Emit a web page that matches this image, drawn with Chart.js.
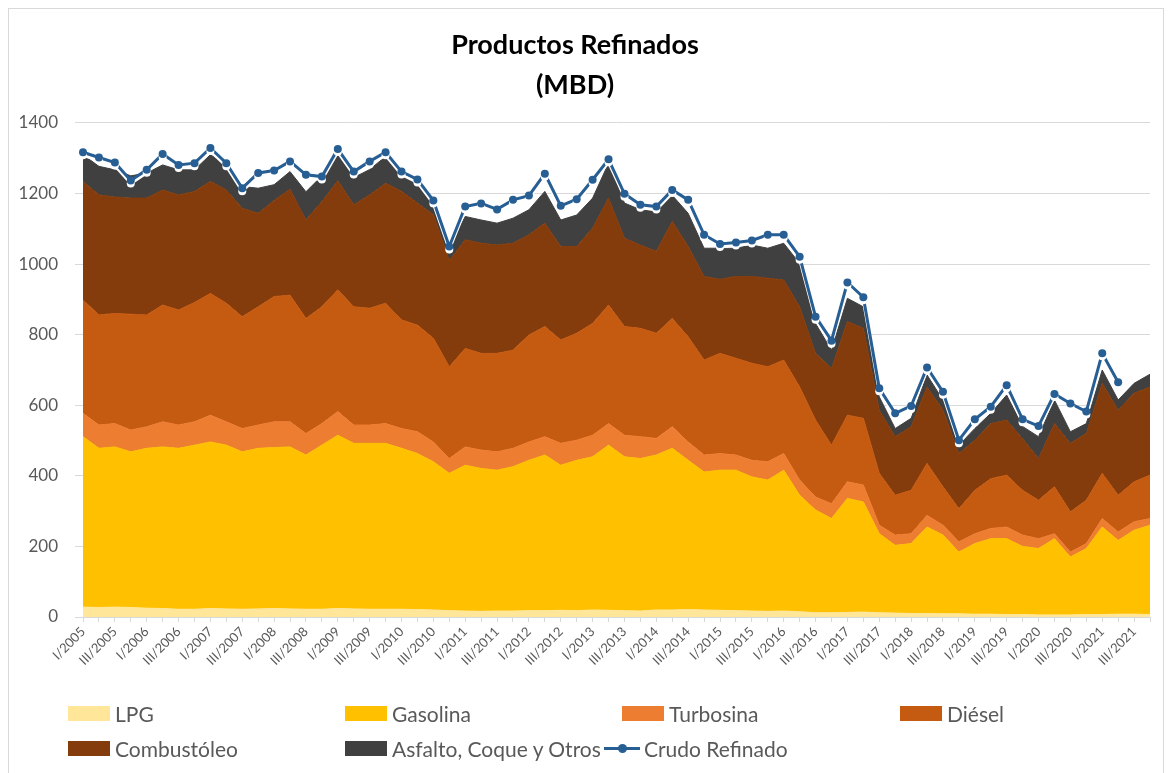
<!DOCTYPE html>
<html lang="es">
<head>
    <meta charset="UTF-8">
    <title>Productos Refinados (MBD)</title>
    <script src="https://cdn.jsdelivr.net/npm/chart.js"></script>
    <style>
        body { margin: 0; background: #fff; font-family: Lato, 'Open Sans', sans-serif; }
        #frame { position: absolute; left: 8px; top: 8px; width: 1156px; height: 790px; border: 1px solid #d9d9d9; box-sizing: border-box; pointer-events: none; }
        #wrap { position: absolute; left: 0; top: 0; width: 1169px; height: 695px; }
        #legend { position: absolute; left: 0; top: 0; width: 1169px; height: 773px; pointer-events: none; }
        .item { position: absolute; display: flex; align-items: center; height: 26px; margin-top: -13px; font-size: 21px; color: #595959; white-space: nowrap; }
        .box { width: 42px; height: 15px; margin-right: 5px; }
        .line { position: relative; width: 36px; height: 3px; margin-right: 4px; }
        .line span { position: absolute; left: 14px; top: -3px; width: 9px; height: 9px; border-radius: 50%; }
    </style>
</head>
<body>
    <div id="wrap"><canvas id="chart" width="1169" height="695"></canvas></div>
    <div id="legend"></div>
    <div id="frame"></div>

    <script>
        // quarters I/2005 .. IV/2021
        const years = [2005, 2006, 2007, 2008, 2009, 2010, 2011, 2012, 2013, 2014, 2015, 2016, 2017, 2018, 2019, 2020, 2021];
        const quarterNames = ['I', 'II', 'III', 'IV'];
        const labels = years.flatMap(y => quarterNames.map(q => q + '/' + y));

        // MBD
        const lpg = [28,27,28,27,25,24,22,22,24,23,22,23, 24,23,22,22,24,23,22,22,22,21,20,18,
                     17,16,17,17,18,18,19,18,20,19,18,17, 20,20,21,20,19,18,17,16,17,15,12,12,
                     13,14,12,11,10,10,9,9,8,8,7,7, 6,6,6,7,7,8,8,7];
        const gasolina = [483,451,454,441,453,458,456,465,472,464,446,455, 456,459,437,465,491,469,470,470,456,442,420,389,
                          413,405,399,409,426,441,411,426,434,468,436,432, 439,458,423,391,397,398,380,372,399,330,291,267,
                          323,312,224,192,198,245,223,175,200,214,215,193, 188,216,164,187,248,209,238,253];
        const turbosina = [66,66,66,62,61,71,66,66,76,66,66,66, 73,71,61,61,67,52,52,56,56,62,56,42,
                           52,52,52,52,52,52,62,57,61,61,61,62, 47,61,52,48,47,43,47,52,47,43,37,42,
                           47,48,24,29,28,33,28,29,28,29,33,32, 28,14,14,14,24,24,24,19];
        const diesel = [321,312,312,328,317,331,326,338,345,336,317,335, 355,359,326,331,345,335,331,341,308,302,294,260,
                        279,274,279,278,303,312,293,303,317,336,308,307, 298,307,298,269,284,274,275,269,265,264,218,166,
                        189,189,147,113,123,147,109,94,123,141,147,127, 109,133,114,123,128,104,113,123];
        const combustoleo = [336,340,330,329,331,326,326,315,317,321,307,265, 272,300,279,298,309,289,321,340,364,346,350,301,
                             308,312,307,303,284,293,265,246,270,303,250,236, 232,275,256,237,210,232,246,251,227,227,189,217,
                             265,255,179,166,180,217,217,156,142,156,156,146, 118,179,194,189,255,241,251,250];
        const asfalto = [76,81,77,63,71,71,71,61,76,71,62,71, 45,50,80,73,79,77,72,76,54,62,35,35,
                         66,66,62,71,71,90,75,89,85,99,100,100, 113,74,94,80,88,80,89,85,104,123,85,52,
                         66,61,38,23,24,34,29,24,33,29,71,35, 62,67,33,28,38,29,28,36];
        const crudo = [1317,1302,1288,1237,1267,1312,1281,1286,1329,1286,1215,1258,
                       1265,1291,1253,1248,1326,1262,1291,1317,1262,1240,1180,1050,
                       1163,1172,1155,1182,1194,1256,1165,1184,1239,1297,1199,1168,
                       1163,1210,1182,1083,1057,1061,1067,1083,1083,1021,851,783,
                       948,906,648,577,598,707,638,501,560,596,657,560,
                       541,632,605,582,747,665,null,null];

        const yTicks = [0, 200, 400, 600, 800, 1000, 1200, 1400];

        function area(label, data, color, first) {
            return {
                label: label, data: data, stack: 'productos',
                backgroundColor: color, borderColor: color, borderWidth: 1,
                fill: first ? 'origin' : '-1', pointRadius: 0, tension: 0
            };
        }

        // white edge under the crude line, like the Excel original
        const whiteEdge = {
            id: 'whiteEdge',
            beforeDatasetDraw(chart, args) {
                if (chart.data.datasets[args.index].stack === 'crudo') {
                    chart.ctx.save();
                    chart.ctx.shadowColor = '#ffffff';
                    chart.ctx.shadowOffsetY = 3;
                    chart.ctx.shadowBlur = 0;
                }
            },
            afterDatasetDraw(chart, args) {
                if (chart.data.datasets[args.index].stack === 'crudo') chart.ctx.restore();
            }
        };

        const chart = new Chart(document.getElementById('chart'), {
            type: 'line',
            data: {
                labels: labels,
                datasets: [
                    area('LPG', lpg, '#ffe699', true),
                    area('Gasolina', gasolina, '#ffc000'),
                    area('Turbosina', turbosina, '#ed7d31'),
                    area('Diésel', diesel, '#c55a11'),
                    area('Combustóleo', combustoleo, '#843c0c'),
                    area('Asfalto, Coque y Otros', asfalto, '#404040'),
                    {
                        label: 'Crudo Refinado', data: crudo, stack: 'crudo', order: -1,
                        borderColor: '#275e93', backgroundColor: '#275e93', borderWidth: 3,
                        pointRadius: 4, pointBorderWidth: 0, fill: false, tension: 0, spanGaps: false
                    }
                ]
            },
            options: {
                responsive: false,
                animation: false,
                layout: { padding: { left: 0, right: 19, top: 0, bottom: 0 } },
                plugins: {
                    legend: { display: false },
                    tooltip: { enabled: false },
                    title: {
                        display: true,
                        text: ['Productos Refinados', '(MBD)'],
                        color: '#000',
                        font: { family: 'Lato', size: 27, weight: 'bold', lineHeight: 1.48 },
                        padding: { top: 25, bottom: 18 }
                    }
                },
                scales: {
                    x: {
                        stacked: true,
                        grid: { drawOnChartArea: false, drawTicks: true, tickLength: 5, color: '#d9d9d9' },
                        border: { color: '#d9d9d9' },
                        ticks: {
                            autoSkip: false, maxRotation: 45, minRotation: 45, padding: 2,
                            color: '#595959', font: { family: 'Lato', size: 13 },
                            callback: function (v, i) { return i % 2 === 0 ? labels[i] : ''; }
                        },
                        afterFit: function (s) { s.height = 78; }
                    },
                    y: {
                        stacked: true, min: 0, max: 1400,
                        afterBuildTicks: function (s) { s.ticks = yTicks.map(v => ({ value: v })); },
                        grid: { color: '#d9d9d9', drawTicks: true, tickLength: 8 },
                        border: { display: false },
                        ticks: {
                            color: '#595959', padding: 17, font: { family: 'Lato', size: 17 },
                            callback: function (v) { return String(v); }
                        },
                        afterFit: function (s) { s.width = 83; }
                    }
                }
            },
            plugins: [whiteEdge]
        });

        // legend laid out in columns like the original
        const legendSpots = [[68, 713], [345, 713], [622, 713], [900, 713], [68, 748], [345, 748], [604, 748]];
        const legend = document.getElementById('legend');
        chart.data.datasets.forEach(function (ds, i) {
            const item = document.createElement('div');
            item.className = 'item';
            item.style.left = legendSpots[i][0] + 'px';
            item.style.top = legendSpots[i][1] + 'px';
            if (ds.stack === 'crudo') {
                item.innerHTML = '<div class="line" style="background:' + ds.borderColor + '"><span style="background:' + ds.borderColor + '"></span></div>' + ds.label;
            } else {
                item.innerHTML = '<div class="box" style="background:' + ds.backgroundColor + '"></div>' + ds.label;
            }
            legend.appendChild(item);
        });
    </script>
</body>
</html>
